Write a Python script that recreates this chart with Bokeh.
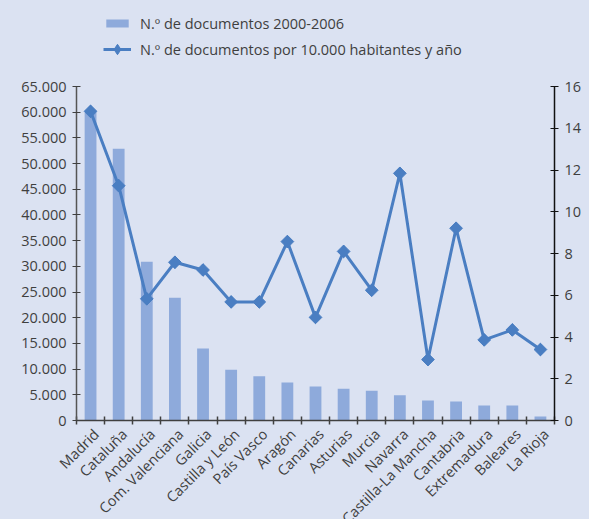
import math
from bokeh.plotting import figure
from bokeh.models import (Range1d, LinearAxis, FixedTicker, Legend, LegendItem)
from bokeh.embed import file_html
from bokeh.resources import INLINE

regions = ["Madrid", "Cataluña", "Andalucía", "Com. Valenciana", "Galicia",
           "Castilla y León", "País Vasco", "Aragón", "Canarias", "Asturias",
           "Murcia", "Navarra", "Castilla-La Mancha", "Cantabria", "Extremadura",
           "Baleares", "La Rioja"]
docs = [60000, 52900, 30900, 23900, 14000, 9900, 8600, 7400, 6600, 6200,
        5800, 4900, 3900, 3700, 2900, 2900, 800]
rate = [14.81, 11.25, 5.83, 7.58, 7.21, 5.68, 5.68, 8.57, 4.94, 8.10,
        6.24, 11.84, 2.92, 9.21, 3.86, 4.34, 3.40]
left_max = 65000
right_max = 16
left_ticks = list(range(0, left_max + 1, 5000))
left_labels = ["0" if t == 0 else f"{t // 1000}.000" for t in left_ticks]
right_ticks = list(range(0, right_max + 1, 2))

BG = "#dbe2f2"
BAR = "#8eaadb"
LINE = "#4a7ec2"
TXT = "#3f3f3f"
FONT = "Open Sans"

AXIS_H = 334     # height of the axes (px)
FRAME_H = 410    # frame includes room for the legend above the axes
scale = FRAME_H / AXIS_H

n = len(regions)
centers = [i + 0.5 for i in range(n)]
label_pos = [c + 0.2 for c in centers]
bounds = list(range(n + 1))

p = figure(frame_width=478, frame_height=FRAME_H, output_backend="svg",
           toolbar_location=None, x_range=Range1d(0, n),
           y_range=Range1d(0, left_max * scale),
           min_border_left=76, min_border_right=35, min_border_top=10,
           min_border_bottom=10, background_fill_color=BG, border_fill_color=BG,
           outline_line_color=None)
p.extra_y_ranges = {"right": Range1d(0, right_max * scale)}
p.grid.visible = False

bars = p.vbar(x=centers, top=docs, width=0.42, fill_color=BAR, line_color=None)
ln = p.line(x=centers, y=rate, y_range_name="right", line_color=LINE, line_width=3)
# diamond (drawn underneath, fully covered) gives the legend its diamond symbol
dm = p.scatter(x=centers, y=rate, y_range_name="right", marker="diamond",
               size=12, fill_color=LINE, line_color=LINE)
sc = p.scatter(x=centers, y=rate, y_range_name="right", marker="square", angle=math.pi / 4,
               size=9, fill_color=LINE, line_color=LINE)

# x axis
xa = p.xaxis[0]
xa.ticker = FixedTicker(ticks=label_pos, minor_ticks=bounds)
xa.major_label_overrides = {c: r for c, r in zip(label_pos, regions)}
xa.major_label_orientation = math.pi / 4
xa.major_tick_line_color = None
xa.major_tick_out = 4
xa.minor_tick_in = 4
xa.minor_tick_out = 4
xa.minor_tick_line_color = "#404040"
xa.minor_tick_line_width = 1.5
xa.axis_line_color = "#404040"
xa.axis_line_width = 1.5

# left axis
ya = p.yaxis[0]
ya.bounds = (0, left_max)
ya.ticker = FixedTicker(ticks=left_ticks, minor_ticks=[])
ya.major_label_overrides = {t: l for t, l in zip(left_ticks, left_labels)}
ya.axis_line_color = "#555555"
ya.axis_line_width = 1.5
ya.major_tick_in = 4
ya.major_tick_out = 4
ya.major_tick_line_color = "#404040"
ya.minor_tick_line_color = None

# right axis
ra = LinearAxis(y_range_name="right", bounds=(0, right_max),
                ticker=FixedTicker(ticks=right_ticks, minor_ticks=[]))
ra.axis_line_color = "#111111"
ra.axis_line_width = 1.5
ra.major_tick_in = 4
ra.major_tick_out = 4
ra.major_tick_line_color = "#111111"
ra.minor_tick_line_color = None
p.add_layout(ra, "right")

for ax in (xa, ya, ra):
    ax.major_label_text_font = FONT
    ax.major_label_text_font_size = "14.5px"
    ax.major_label_text_color = TXT
    ax.major_label_standoff = 6
xa.major_label_standoff = 7

common = dict(orientation="vertical", background_fill_alpha=0, border_line_color=None,
              glyph_width=28, label_height=20, label_standoff=9, spacing=0,
              padding=0, margin=0, label_text_font=FONT, label_text_font_size="14.5px",
              label_text_color=TXT)
legend1 = Legend(items=[LegendItem(label="N.º de documentos 2000-2006", renderers=[bars])],
                 location=(27, 387), glyph_height=10, **common)
legend2 = Legend(items=[LegendItem(label="N.º de documentos por 10.000 habitantes y año",
                                   renderers=[ln, dm])],
                 location=(27, 358), glyph_height=26, **common)
p.add_layout(legend1)
p.add_layout(legend2)

html = file_html(p, INLINE)
i = html.find("</head>")
j = html.find("<body", i)
html = html[:j] + '<body style="background:%s;overflow:hidden"' % BG + html[j + 5:]
open("out.html", "w").write(html)
